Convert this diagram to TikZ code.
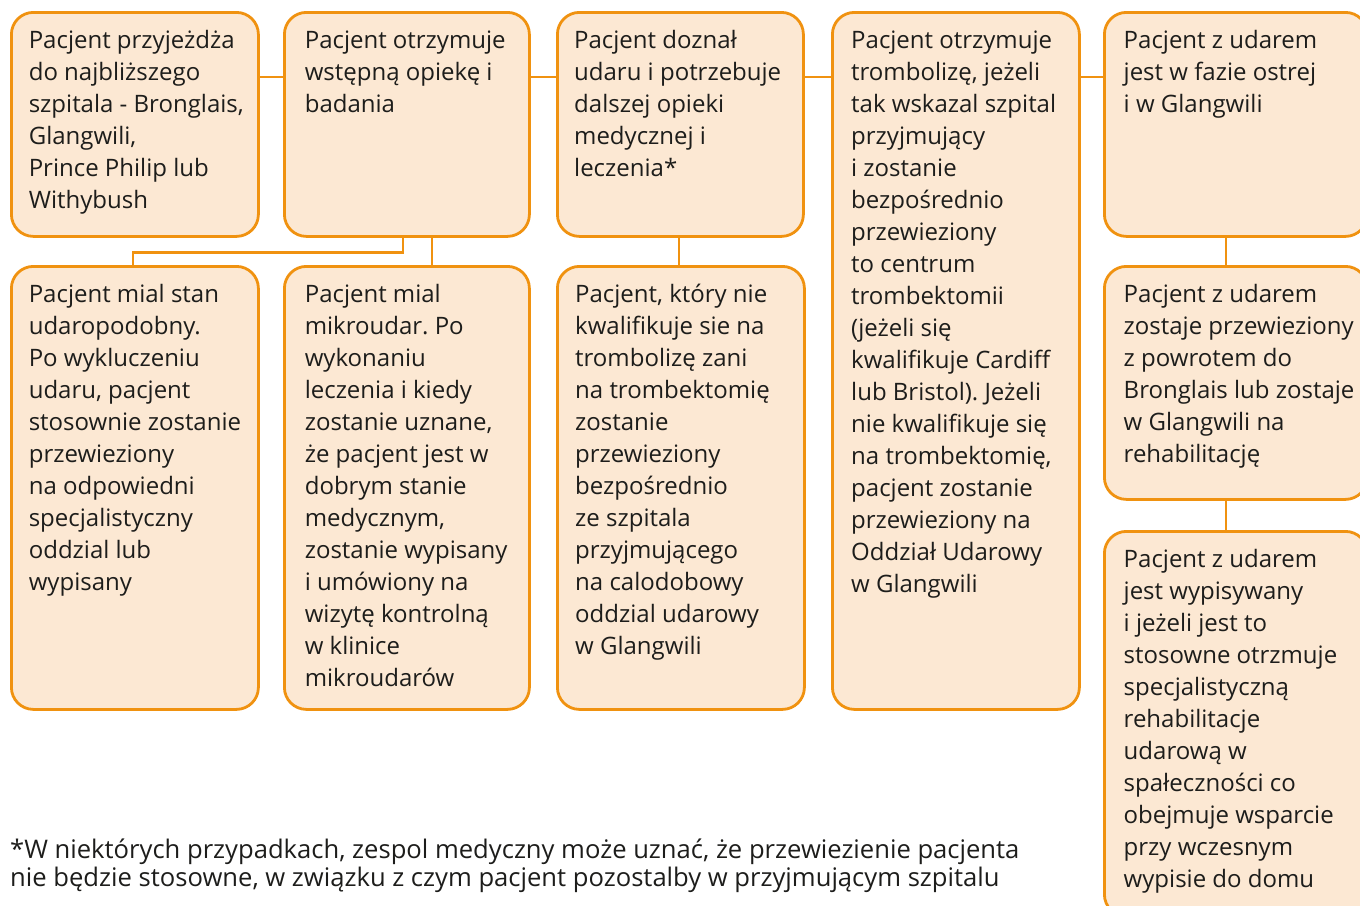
\documentclass[tikz,border=0pt]{standalone}
\usepackage{fontspec}
\setmainfont{Open Sans}
\frenchspacing
\definecolor{boxorange}{HTML}{F09210}
\definecolor{boxfill}{HTML}{FCE8D3}
\definecolor{textcol}{HTML}{1D1D1B}
\newcommand{\boxfont}{\fontsize{24}{32}\selectfont}
\newcommand{\boxtxt}[1]{\parbox[t]{320pt}{\raggedright\boxfont #1}}
\tikzset{
  stepbox/.style={draw=boxorange, fill=boxfill, line width=2.8pt, rounded corners=22pt, anchor=north west, inner sep=0pt},
  boxtext/.style={anchor=base west, inner sep=0pt, text=textcol},
  link/.style={draw=boxorange, line width=2.8pt}
}
\begin{document}
\begin{tikzpicture}[x=1pt,y=-1pt]
\useasboundingbox (0,0) rectangle (1360,905);
% row 1
\node[stepbox, minimum width=247pt, minimum height=224pt] (b1) at (10,11) {};
\node[stepbox, minimum width=245pt, minimum height=224pt] (b2) at (283,11) {};
\node[stepbox, minimum width=246pt, minimum height=224pt] (b3) at (556,11) {};
\node[stepbox, minimum width=247pt, minimum height=697pt] (b4) at (831,11) {};
\node[stepbox, minimum width=263pt, minimum height=224pt] (b5) at (1103,11) {};
% row 2
\node[stepbox, minimum width=247pt, minimum height=443pt] (b6) at (10,265) {};
\node[stepbox, minimum width=245pt, minimum height=443pt] (b7) at (283,265) {};
\node[stepbox, minimum width=247pt, minimum height=443pt] (b8) at (556,265) {};
\node[stepbox, minimum width=263pt, minimum height=233pt] (b9) at (1103,265) {};
\node[stepbox, minimum width=263pt, minimum height=385pt] (b10) at (1103,530) {};
% connectors
\coordinate (rowy) at (0,77);
\draw[link] (b1.east |- rowy) -- (b2.west |- rowy);
\draw[link] (b2.east |- rowy) -- (b3.west |- rowy);
\draw[link] (b3.east |- rowy) -- (b4.west |- rowy);
\draw[link] (b4.east |- rowy) -- (b5.west |- rowy);
\draw[link] ([xshift=120pt]b2.south west) -- ++(0,15) -| ([xshift=123pt]b6.north west);
\draw[link] ([xshift=149pt]b2.south west) -- ([xshift=149pt]b7.north west);
\draw[link] ([xshift=123pt]b3.south west) -- ([xshift=123pt]b8.north west);
\draw[link] ([xshift=123pt]b5.south west) -- ([xshift=123pt]b9.north west);
\draw[link] ([xshift=123pt]b9.south west) -- ([xshift=123pt]b10.north west);
% texts
\node[boxtext] (t1) at ([xshift=18.6pt,yshift=-37.5pt]b1.north west) {\boxtxt{Pacjent przyjeżdża\\do najbliższego\\szpitala - Bronglais,\\Glangwili,\\Prince Philip lub\\Withybush}};
\node[boxtext] (t2) at ([xshift=21.6pt,yshift=-37.5pt]b2.north west) {\boxtxt{Pacjent otrzymuje\\wstępną opiekę i\\badania}};
\node[boxtext] (t3) at ([xshift=18pt,yshift=-37.5pt]b3.north west) {\boxtxt{Pacjent doznał\\udaru i potrzebuje\\dalszej opieki\\medycznej i\\leczenia*}};
\node[boxtext] (t4) at ([xshift=20pt,yshift=-37.5pt]b4.north west) {\boxtxt{Pacjent otrzymuje\\trombolizę, jeżeli\\tak wskazal szpital\\przyjmujący\\i zostanie\\bezpośrednio\\przewieziony\\to centrum\\trombektomii\\(jeżeli się\\kwalifikuje Cardiff\\lub Bristol). Jeżeli\\nie kwalifikuje się\\na trombektomię,\\pacjent zostanie\\przewieziony na\\Oddział Udarowy\\w Glangwili}};
\node[boxtext] (t5) at ([xshift=20.5pt,yshift=-37.5pt]b5.north west) {\boxtxt{Pacjent z udarem\\jest w fazie ostrej\\i w Glangwili}};
\node[boxtext] (t6) at ([xshift=18.6pt,yshift=-37.5pt]b6.north west) {\boxtxt{Pacjent mial stan\\udaropodobny.\\Po wykluczeniu\\udaru, pacjent\\stosownie zostanie\\przewieziony\\na odpowiedni\\specjalistyczny\\oddzial lub\\wypisany}};
\node[boxtext] (t7) at ([xshift=21.6pt,yshift=-37.5pt]b7.north west) {\boxtxt{Pacjent mial\\mikroudar. Po\\wykonaniu\\leczenia i kiedy\\zostanie uznane,\\że pacjent jest w\\dobrym stanie\\medycznym,\\zostanie wypisany\\i umówiony na\\wizytę kontrolną\\w klinice\\mikroudarów}};
\node[boxtext] (t8) at ([xshift=19pt,yshift=-37.5pt]b8.north west) {\boxtxt{Pacjent, który nie\\kwalifikuje sie na\\trombolizę zani\\na trombektomię\\zostanie\\przewieziony\\bezpośrednio\\ze szpitala\\przyjmującego\\na calodobowy\\oddzial udarowy\\w Glangwili}};
\node[boxtext] (t9) at ([xshift=20.5pt,yshift=-37.5pt]b9.north west) {\boxtxt{Pacjent z udarem\\zostaje przewieziony\\z powrotem do\\Bronglais lub zostaje\\w Glangwili na\\rehabilitację}};
\node[boxtext] (t10) at ([xshift=20.5pt,yshift=-37.5pt]b10.north west) {\boxtxt{Pacjent z udarem\\jest wypisywany\\i jeżeli jest to\\stosowne otrzmuje\\specjalistyczną\\rehabilitacje\\udarową w\\spałeczności co\\obejmuje wsparcie\\przy wczesnym\\wypisie do domu}};
% footnote
\node[boxtext] (note) at (10,858) {\parbox[t]{1200pt}{\raggedright\fontsize{25.6}{28.5}\selectfont *W niektórych przypadkach, zespol medyczny może uznać, że przewiezienie pacjenta\\nie będzie stosowne, w związku z czym pacjent pozostalby w przyjmującym szpitalu}};
\end{tikzpicture}
\end{document}
